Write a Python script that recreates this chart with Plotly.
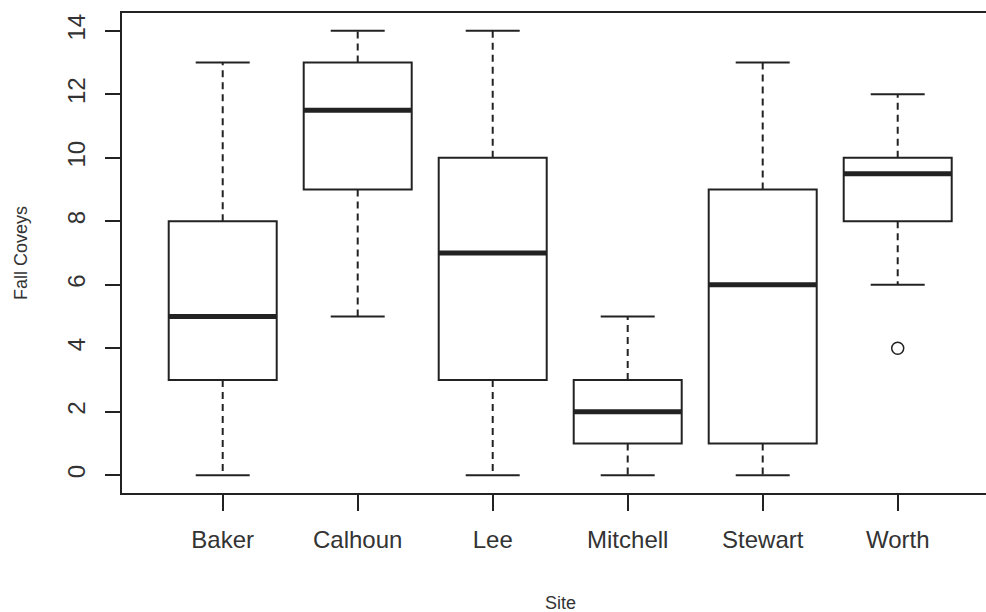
import plotly.graph_objects as go

# ---- data ----
sites = ["Baker", "Calhoun", "Lee", "Mitchell", "Stewart", "Worth"]
positions = [1, 2, 3, 4, 5, 6]
lower_whisker = [0, 5, 0, 0, 0, 6]
q1 = [3, 9, 3, 1, 1, 8]
median = [5, 11.5, 7, 2, 6, 9.5]
q3 = [8, 13, 10, 3, 9, 10]
upper_whisker = [13, 14, 14, 5, 13, 12]
outlier_site = [6]
outlier_value = [4]
y_ticks = [0, 2, 4, 6, 8, 10, 12, 14]

LINE = "#222222"
TEXT = "#333333"
FONT = "Liberation Sans, Arial, sans-serif"
BOX_W = 0.8
CAP_W = 0.4

fig = go.Figure()

# boxes (no built-in whiskers: fences set at the hinges)
fig.add_trace(go.Box(
    x=positions, q1=q1, median=median, q3=q3,
    lowerfence=q1, upperfence=q3,
    width=BOX_W, fillcolor="white",
    line=dict(color=LINE, width=2),
    whiskerwidth=0, boxpoints=False, hoverinfo="skip", showlegend=False,
))

# dashed whiskers
wx, wy = [], []
for p, lo, a, b, hi in zip(positions, lower_whisker, q1, q3, upper_whisker):
    wx += [p, p, None, p, p, None]
    wy += [b, hi, None, a, lo, None]
fig.add_trace(go.Scatter(x=wx, y=wy, mode="lines",
                         line=dict(color=LINE, width=2, dash="7px,5px"),
                         hoverinfo="skip", showlegend=False))

# whisker caps
cx, cy = [], []
for p, lo, hi in zip(positions, lower_whisker, upper_whisker):
    cx += [p - CAP_W / 2, p + CAP_W / 2, None, p - CAP_W / 2, p + CAP_W / 2, None]
    cy += [hi, hi, None, lo, lo, None]
fig.add_trace(go.Scatter(x=cx, y=cy, mode="lines",
                         line=dict(color=LINE, width=2),
                         hoverinfo="skip", showlegend=False))

# thick medians
mx, my = [], []
for p, m in zip(positions, median):
    mx += [p - BOX_W / 2, p + BOX_W / 2, None]
    my += [m, m, None]
fig.add_trace(go.Scatter(x=mx, y=my, mode="lines",
                         line=dict(color=LINE, width=5),
                         hoverinfo="skip", showlegend=False))

# outlier
fig.add_trace(go.Scatter(x=outlier_site, y=outlier_value, mode="markers",
                         marker=dict(symbol="circle-open", size=12,
                                     color=LINE, line=dict(width=1.5, color=LINE)),
                         hoverinfo="skip", showlegend=False))

fig.update_layout(
    width=986, height=612,
    margin=dict(l=122, r=0, t=13, b=119),
    paper_bgcolor="white", plot_bgcolor="white",
    font=dict(family=FONT, color=TEXT, size=24),
    showlegend=False,
    xaxis=dict(
        range=[0.254, 6.654], tickmode="array", tickvals=positions, ticktext=sites,
        ticks="outside", ticklen=16, tickwidth=2, tickcolor=LINE,
        showline=True, linewidth=2, linecolor=LINE, mirror=True,
        showgrid=False, zeroline=False, tickfont=dict(size=24, color=TEXT),
        ticklabelstandoff=8,
    ),
    yaxis=dict(
        range=[-0.56, 14.56], tickmode="array", tickvals=y_ticks,
        ticks="outside", ticklen=15, tickwidth=2, tickcolor=LINE,
        showline=True, linewidth=2, linecolor=LINE, mirror=False,
        showgrid=False, zeroline=False, tickangle=-90,
        tickfont=dict(size=24, color=TEXT), ticklabelstandoff=10,
    ),
    annotations=[
        dict(text="Site", xref="x", yref="paper", x=3.5, y=0,
             yshift=-110, xanchor="center", yanchor="middle", showarrow=False,
             font=dict(size=18, color=TEXT, family=FONT)),
        dict(text="Fall Coveys", xref="paper", yref="paper", x=0, y=0.5,
             xshift=-101, xanchor="center", yanchor="middle", textangle=-90,
             showarrow=False, font=dict(size=18, color=TEXT, family=FONT)),
    ],
)

fig.write_html(
    "out.html",
    config={"displayModeBar": False},
    post_script="document.body.style.margin='0';document.body.style.overflow='hidden';",
)
